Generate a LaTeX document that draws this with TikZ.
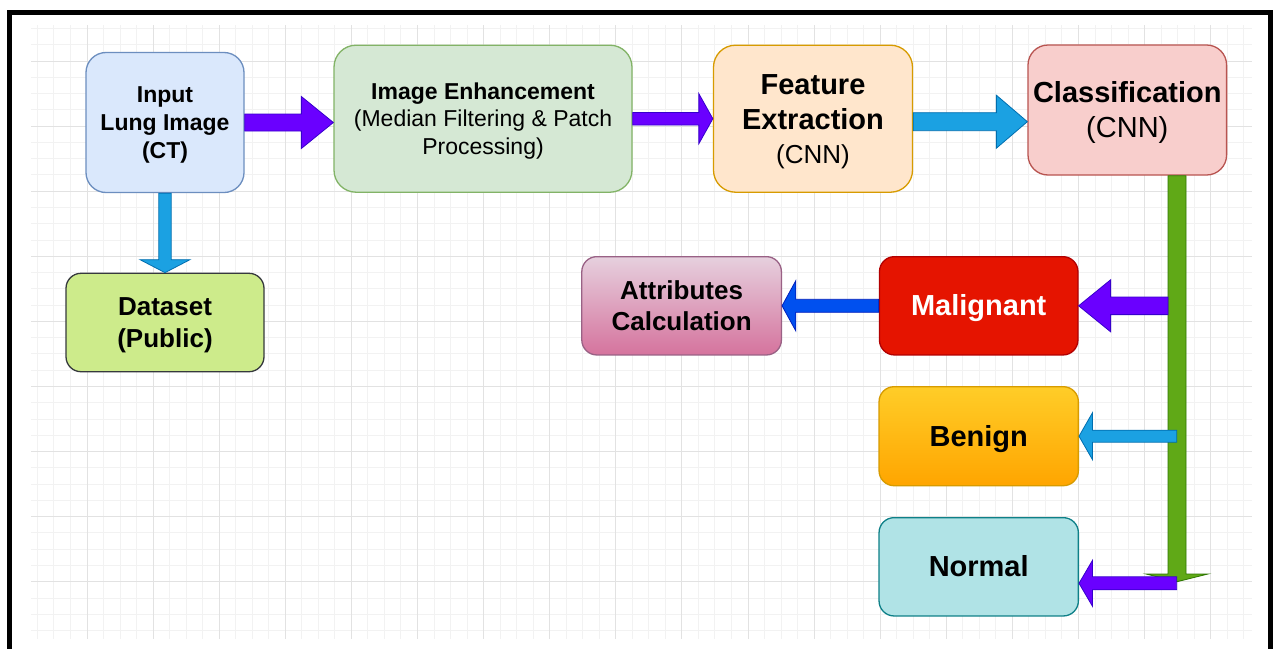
\documentclass[tikz,border=0pt]{standalone}
\usepackage{fontspec}
\setmainfont{Liberation Sans}
\usetikzlibrary{calc}

\definecolor{inFill}{HTML}{DAE8FC}   \definecolor{inLine}{HTML}{6C8EBF}
\definecolor{enhFill}{HTML}{D5E8D4}  \definecolor{enhLine}{HTML}{82B366}
\definecolor{featFill}{HTML}{FFE6CC} \definecolor{featLine}{HTML}{D79B00}
\definecolor{clsFill}{HTML}{F8CECC}  \definecolor{clsLine}{HTML}{B85450}
\definecolor{dataFill}{HTML}{CDEB8B} \definecolor{dataLine}{HTML}{36393D}
\definecolor{attrTop}{HTML}{E6D0DE}  \definecolor{attrBot}{HTML}{D5739D} \definecolor{attrLine}{HTML}{996185}
\definecolor{maligFill}{HTML}{E51400} \definecolor{maligLine}{HTML}{B20000}
\definecolor{benTop}{HTML}{FFCD28}   \definecolor{benBot}{HTML}{FFA500} \definecolor{benLine}{HTML}{D79B00}
\definecolor{normFill}{HTML}{B0E3E6} \definecolor{normLine}{HTML}{0E8088}
\definecolor{arrViolet}{HTML}{6A00FF} \definecolor{arrVioletLine}{HTML}{3700CC}
\definecolor{arrSky}{HTML}{1BA1E2}    \definecolor{arrSkyLine}{HTML}{006EAF}
\definecolor{arrCobalt}{HTML}{0050EF} \definecolor{arrCobaltLine}{HTML}{001DBC}
\definecolor{arrLeaf}{HTML}{60A917}   \definecolor{arrLeafLine}{HTML}{2D7600}
\definecolor{gridMajor}{HTML}{E2E2E2} \definecolor{gridMinor}{HTML}{F2F2F2}

% line strut: every text line gets a 1.2em box with the baseline placed as in a browser
\newcommand\ls{\rule[-0.2535em]{0pt}{1.2em}}

% block arrow: #1 style, #2 tail, #3 tip, #4 shaft half-width, #5 head half-width, #6 head length
\newcommand\fatarrow[6]{%
  \path (#2) coordinate (fa-s) (#3) coordinate (fa-t);
  \path ($(fa-t)!#6!(fa-s)$) coordinate (fa-m);
  \filldraw[#1]
    ($(fa-s)!#4!90:(fa-t)$) -- ($(fa-m)!#4!90:(fa-t)$) -- ($(fa-m)!#5!90:(fa-t)$)
    -- (fa-t)
    -- ($(fa-m)!#5!-90:(fa-t)$) -- ($(fa-m)!#4!-90:(fa-t)$) -- ($(fa-s)!#4!-90:(fa-t)$) -- cycle;
}

\begin{document}
\begin{tikzpicture}[x=1pt,y=-1pt,
  box/.style={rectangle, inner sep=0pt, align=center, line width=1.3pt, text=black},
  violetArrow/.style={fill=arrViolet, draw=arrVioletLine, line width=0.8pt, line join=miter},
  skyArrow/.style={fill=arrSky, draw=arrSkyLine, line width=0.8pt, line join=miter},
  cobaltArrow/.style={fill=arrCobalt, draw=arrCobaltLine, line width=0.8pt, line join=miter},
  leafArrow/.style={fill=arrLeaf, draw=arrLeafLine, line width=0.8pt, line join=miter},
  minorLine/.style={draw=gridMinor, line width=1pt},
  majorLine/.style={draw=gridMajor, line width=1pt}]

\useasboundingbox (0,0) rectangle (1273,648);
\clip (0,0) rectangle (1273,648);
\fill[white] (0,0) rectangle (1273,648);

% background grid
\begin{scope}
  \clip (31,25) rectangle (1252,638.7);
  \foreach \k in {0,...,74} \draw[minorLine] ({37.425+16.525*\k},25) -- ({37.425+16.525*\k},638.7);
  \foreach \k in {0,...,38} \draw[minorLine] (31,{28.45+16.275*\k}) -- (1252,{28.45+16.275*\k});
  \foreach \k in {0,...,18} \draw[majorLine] ({87+66.1*\k},25) -- ({87+66.1*\k},638.7);
  \foreach \k in {0,...,9} \draw[majorLine] (31,{61+65.1*\k}) -- (1252,{61+65.1*\k});
\end{scope}

% frame
\draw[line width=5pt, line join=miter] (9.5,660) -- (9.5,12.5) -- (1270.5,12.5) -- (1270.5,660);

% blocks
\node[box, minimum width=158pt, minimum height=140pt, rounded corners=20pt,
      fill=inFill, draw=inLine, font=\fontsize{23}{27.6}\selectfont\bfseries]
      (in) at (165,122.5) {\ls Input\\\ls Lung Image\\\ls (CT)};
\node[box, minimum width=298pt, minimum height=147pt, rounded corners=22pt,
      fill=enhFill, draw=enhLine, font=\fontsize{23}{27.6}\selectfont]
      (enh) at (483,118.7) {\ls\textbf{Image Enhancement}\\\ls(Median Filtering \& Patch\\\ls Processing)};
\node[box, minimum width=199pt, minimum height=147pt, rounded corners=22pt,
      fill=featFill, draw=featLine, font=\fontsize{29}{34.8}\selectfont]
      (feat) at (813,118.7) {\ls\textbf{Feature}\\\ls\textbf{Extraction}\\{\fontsize{26}{31.2}\selectfont\ls(CNN)}};
\node[box, minimum width=198.6pt, minimum height=130pt, rounded corners=20pt,
      fill=clsFill, draw=clsLine, font=\fontsize{29}{34.8}\selectfont]
      (cls) at (1127.3,110) {\ls\textbf{Classification}\\\ls(CNN)};
\node[box, minimum width=198pt, minimum height=98.4pt, rounded corners=15pt,
      fill=dataFill, draw=dataLine, font=\fontsize{26}{31.2}\selectfont\bfseries]
      (data) at (165,322.5) {\ls Dataset\\\ls(Public)};
\node[box, minimum width=199.6pt, minimum height=98.3pt, rounded corners=15pt,
      top color=attrTop, bottom color=attrBot, draw=attrLine,
      font=\fontsize{26}{31.2}\selectfont\bfseries]
      (attr) at (681.6,305.8) {\ls Attributes\\\ls Calculation};
\node[box, minimum width=198.5pt, minimum height=98.3pt, rounded corners=15pt,
      fill=maligFill, draw=maligLine, text=white, font=\fontsize{29}{34.8}\selectfont\bfseries]
      (malig) at (978.7,305.8) {\ls Malignant};
\node[box, minimum width=199.3pt, minimum height=99pt, rounded corners=15pt,
      top color=benTop, bottom color=benBot, draw=benLine, font=\fontsize{29}{34.8}\selectfont\bfseries]
      (ben) at (978.7,436.2) {\ls Benign};
\node[box, minimum width=199.3pt, minimum height=98.3pt, rounded corners=15pt,
      fill=normFill, draw=normLine, font=\fontsize{29}{34.8}\selectfont\bfseries]
      (norm) at (978.7,566.8) {\ls Normal};

% helper points on the class bus
\coordinate (busEnd) at (1177,581.7);
\coordinate (busTop) at (cls.south -| busEnd);
\coordinate (busLeft) at (1168,0);
\coordinate (busMid) at (1176.7,0);
\coordinate (fcTail) at ($(feat.east)+(0,3)$);
\coordinate (normTip) at ($(norm.east)+(0,16.5)$);

% connectors
\fatarrow{leafArrow}{busTop}{busEnd}{9pt}{31pt}{7.7pt}
\fatarrow{violetArrow}{in.east}{enh.west |- in.east}{8.5pt}{26pt}{32pt}
\fatarrow{violetArrow}{enh.east}{feat.west}{6.3pt}{25pt}{14pt}
\fatarrow{skyArrow}{fcTail}{cls.west |- fcTail}{9pt}{26.5pt}{31pt}
\fatarrow{skyArrow}{in.south}{data.north}{6.2pt}{25pt}{13pt}
\fatarrow{violetArrow}{malig.east -| busLeft}{malig.east}{8.8pt}{26pt}{32pt}
\fatarrow{skyArrow}{ben.east -| busMid}{ben.east}{6pt}{23.5pt}{13.5pt}
\fatarrow{violetArrow}{normTip -| busMid}{normTip}{6.5pt}{23pt}{13.5pt}
\fatarrow{cobaltArrow}{malig.west}{attr.east}{6.5pt}{25pt}{13.7pt}

\end{tikzpicture}
\end{document}
